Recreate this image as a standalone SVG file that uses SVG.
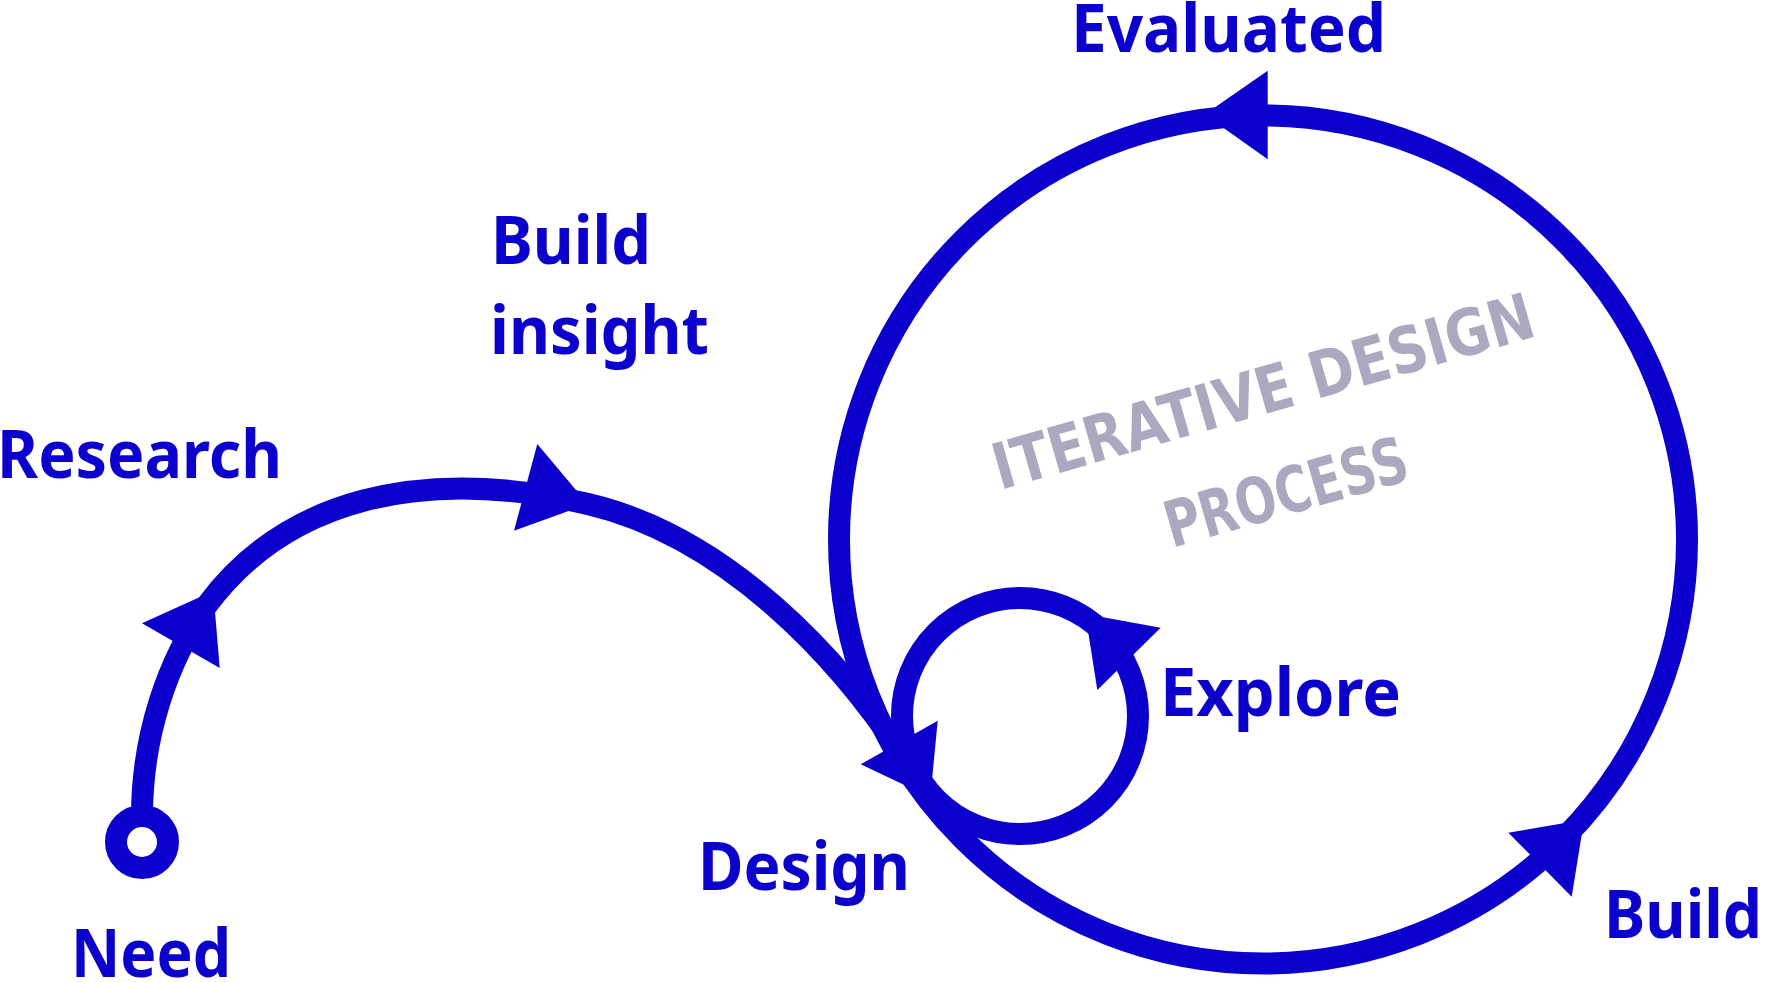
<svg xmlns="http://www.w3.org/2000/svg" width="1766" height="982" viewBox="0 0 1766 982">
<style>
.line{fill:none;stroke:#0c00cc;stroke-width:22}
.arrow{fill:#0c00cc;stroke:none}
.label{font-family:"Noto Sans","Open Sans",sans-serif;font-weight:700;font-size:67px;fill:#0c00cc}
.hand{font-family:"DejaVu Sans","Liberation Sans",sans-serif;font-weight:700;font-size:64px;fill:#aba9bf}
</style>
<rect width="1766" height="982" fill="#ffffff"/>
<g id="connectors">
  <path class="line" d="M142,816 C142,735 168,660 207,605 C285,500 420,465 588,504 C720,535 840,650 922,786"/>
  <circle class="line" cx="1263" cy="539.5" r="424"/>
  <circle class="line" cx="1020" cy="716" r="118"/>
  <polygon class="arrow" points="142,623.3 219.7,668 213.3,591"/>
  <polygon class="arrow" points="537.3,444 514,530.7 587.7,504.1"/>
  <polygon class="arrow" points="860.7,764.3 937.7,720.7 930.3,797.3"/>
  <polygon class="arrow" points="1160.7,627.7 1097.3,690 1085.4,614.1"/>
  <polygon class="arrow" points="1508.3,832.7 1571.7,896.7 1584.1,819.8"/>
  <polygon class="arrow" points="1267.7,70.7 1267.7,159.3 1204.6,114.6"/>
</g>
<g id="need">
  <circle cx="142" cy="842" r="26" fill="none" stroke="#0c00cc" stroke-width="22"/>
  <text class="label" x="71" y="977" textLength="160" lengthAdjust="spacingAndGlyphs">Need</text>
</g>
<g id="research">
  <text class="label" x="-3" y="477.5" textLength="285" lengthAdjust="spacingAndGlyphs">Research</text>
</g>
<g id="build-insight">
  <text class="label" x="491" y="264.3" textLength="160" lengthAdjust="spacingAndGlyphs">Build</text>
  <text class="label" x="490" y="354" textLength="219" lengthAdjust="spacingAndGlyphs">insight</text>
</g>
<g id="design">
  <text class="label" x="698" y="890" textLength="212" lengthAdjust="spacingAndGlyphs">Design</text>
</g>
<g id="explore">
  <text class="label" x="1160" y="716" textLength="241" lengthAdjust="spacingAndGlyphs">Explore</text>
</g>
<g id="evaluated">
  <text class="label" x="1071" y="52.3" textLength="315" lengthAdjust="spacingAndGlyphs">Evaluated</text>
</g>
<g id="build">
  <text class="label" x="1604" y="937.7" textLength="158" lengthAdjust="spacingAndGlyphs">Build</text>
</g>
<g id="title">
  <text class="hand" transform="translate(1000,490) rotate(-16)" textLength="560" lengthAdjust="spacingAndGlyphs">ITERATIVE DESIGN</text>
  <text class="hand" transform="translate(1172,548) rotate(-16)" textLength="250" lengthAdjust="spacingAndGlyphs">PROCESS</text>
</g>
</svg>
